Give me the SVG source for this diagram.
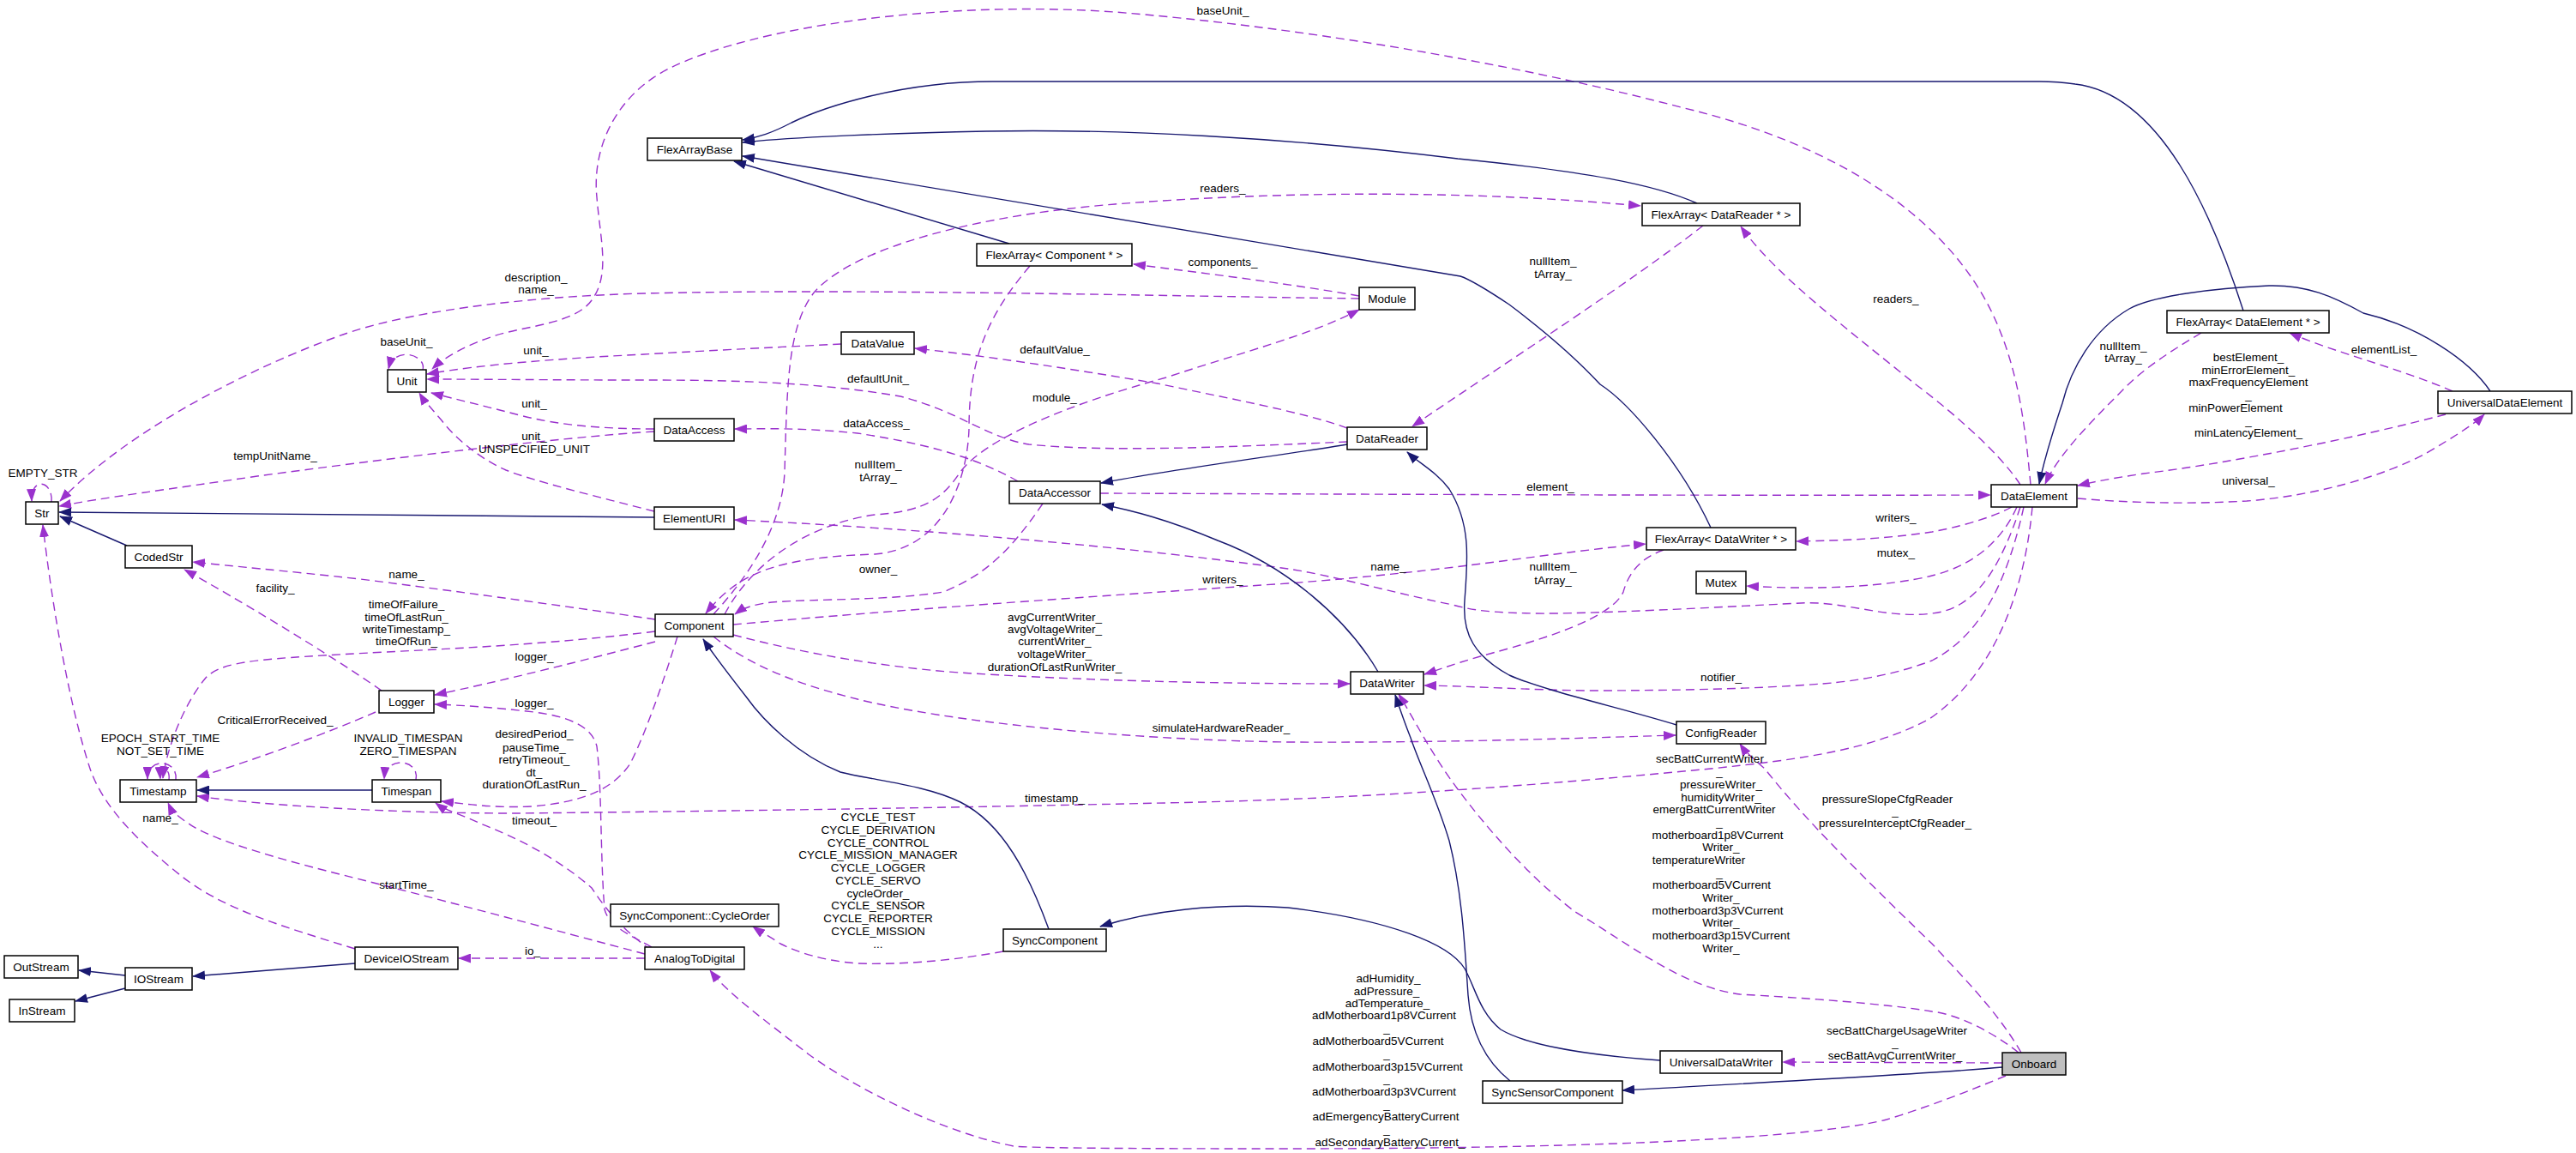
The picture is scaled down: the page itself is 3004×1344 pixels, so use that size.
<svg xmlns="http://www.w3.org/2000/svg" width="3004" height="1344" viewBox="0 0 3004 1344">
<style>
text{font-family:"Liberation Sans",Arial,sans-serif;font-size:13.5px;fill:#000}
.n text{text-anchor:middle}
.m{text-anchor:middle}
.n rect{fill:#fff;stroke:#000;stroke-width:1.5}
.u{fill:none;stroke:#9a32cd;stroke-width:1.4;stroke-dasharray:10 6;marker-end:url(#ap)}
.i{fill:none;stroke:#191970;stroke-width:1.4;marker-end:url(#an)}
</style>
<defs>
<marker id="ap" markerUnits="userSpaceOnUse" markerWidth="15" markerHeight="11" viewBox="0 0 15 11" refX="14" refY="5.5" orient="auto"><path d="M0,0L15,5.5L0,11z" fill="#9a32cd"/></marker>
<marker id="an" markerUnits="userSpaceOnUse" markerWidth="15" markerHeight="11" viewBox="0 0 15 11" refX="14" refY="5.5" orient="auto"><path d="M0,0L15,5.5L0,11z" fill="#191970"/></marker>
</defs>
<rect width="3004" height="1344" fill="#fff"/>
<g id="connectors">
<path class="u" d="M2368,565 C2362,500 2355,440 2330,380 C2280,260 2150,170 1960,125 C1750,70 1500,30 1300,14 C1100,0 880,30 780,80 C720,110 690,170 696,230 C700,280 712,320 690,350 C670,378 610,380 575,392 C545,402 520,415 504,430"/>
<path class="u" d="M2356,565 C2330,525 2270,475 2230,445 C2150,380 2070,320 2030,264"/>
<path class="u" d="M832,716 C865,680 912,620 915,550 C918,450 918,380 950,340 C1000,285 1150,250 1300,238 C1500,222 1720,222 1913,240"/>
<path class="u" d="M1986,263 C1900,330 1760,420 1647,497"/>
<path class="u" d="M1585,345 C1500,330 1400,318 1322,308"/>
<path class="u" d="M1585,348 C1350,345 1000,336 751,342 C600,346 470,365 400,390 C300,425 150,500 70,584"/>
<path class="u" d="M845,716 C880,650 950,610 1020,600 C1080,596 1100,580 1120,550 C1150,510 1250,470 1360,440 C1450,410 1530,390 1585,361"/>
<path class="u" d="M1201,310 C1150,370 1130,420 1130,500 C1128,560 1100,640 1020,646 C900,650 860,670 823,715"/>
<path class="u" d="M981,401 C900,405 800,410 751,413 C650,418 560,425 498,436"/>
<path class="u" d="M1571,499 C1520,480 1420,462 1350,447 C1250,430 1150,415 1067,406"/>
<path class="u" d="M1571,515 C1450,520 1300,528 1200,518 C1150,510 1120,480 1050,462 C950,445 850,443 751,443 C650,443 560,442 498,442"/>
<path class="u" d="M763,500 C700,500 650,495 610,485 C560,472 530,465 503,458"/>
<path class="u" d="M763,503 C650,510 450,535 300,555 C200,570 120,580 69,590"/>
<path class="u" d="M763,596 C700,580 620,560 590,548 C560,535 530,510 515,490 C505,478 495,468 489,458"/>
<path class="u" d="M764,722 C650,705 500,685 420,675 C330,665 270,660 225,655"/>
<path class="u" d="M445,805 C380,760 280,700 215,664"/>
<path class="u" d="M764,736 C650,750 550,755 450,760 C300,768 260,770 240,790 C215,820 195,870 190,907"/>
<path class="u" d="M764,748 C680,770 580,795 507,810"/>
<path class="u" d="M760,1104 C735,1090 710,1080 705,1060 C700,1000 702,920 696,870 C690,845 660,835 623,830 C580,825 540,822 507,821"/>
<path class="u" d="M438,830 C380,855 300,885 230,906"/>
<path class="u" d="M790,742 C775,790 755,850 735,890 C715,920 680,935 620,940 C580,942 550,938 515,934"/>
<path class="u" d="M760,1108 C720,1080 700,1050 690,1035 C650,1000 600,975 560,960 C540,950 520,945 508,936"/>
<path class="u" d="M2370,591 C2360,700 2320,790 2250,838 C2180,875 2100,885 1995,896 C1800,915 1600,930 1400,935 C1100,942 800,946 600,948 C450,948 300,938 230,928"/>
<path class="u" d="M752,1112 C650,1085 500,1045 400,1020 C300,995 240,975 220,960 C205,950 200,945 196,936"/>
<path class="u" d="M414,1106 C330,1080 260,1060 210,1020 C160,980 120,940 105,896 C80,820 60,700 50,612"/>
<path class="u" d="M752,1117 L535,1117"/>
<path class="u" d="M1187,561 C1150,540 1100,520 1000,505 C930,498 890,500 857,500"/>
<path class="u" d="M1283,575 C1600,576 2000,578 2321,577"/>
<path class="u" d="M1216,587 C1180,640 1150,670 1100,690 C1040,700 950,698 900,702 C875,705 865,710 857,716"/>
<path class="u" d="M855,728 C1000,715 1200,700 1502,680 C1700,665 1800,645 1919,634"/>
<path class="u" d="M2356,591 C2330,670 2300,710 2253,715 C2200,722 2150,700 2100,703 C2000,708 1850,716 1789,715 C1740,714 1720,712 1694,705 C1620,690 1560,672 1502,663 C1300,635 1050,615 857,606"/>
<path class="u" d="M2346,591 C2320,605 2280,615 2253,620 C2200,628 2150,630 2095,631"/>
<path class="u" d="M2352,591 C2330,640 2290,662 2253,671 C2200,684 2120,688 2037,683"/>
<path class="u" d="M2360,591 C2340,680 2310,740 2253,770 C2200,790 2150,795 2125,797 C2050,803 1950,805 1850,805 C1780,804 1720,800 1661,799"/>
<path class="u" d="M1940,641 C1915,650 1900,665 1893,690 C1880,720 1800,745 1741,761 C1700,772 1680,780 1661,786"/>
<path class="u" d="M855,740 C950,765 1050,780 1134,785 C1300,795 1450,797 1574,797"/>
<path class="u" d="M832,742 C880,780 940,800 1000,815 C1100,840 1300,862 1502,865 C1700,866 1850,860 1954,857"/>
<path class="u" d="M2354,1227 C2320,1200 2280,1182 2253,1179 C2200,1170 2100,1163 2029,1159 C1960,1150 1900,1100 1837,1063 C1780,1020 1730,960 1700,920 C1670,880 1650,840 1631,809"/>
<path class="u" d="M2357,1227 C2330,1180 2290,1140 2253,1100 C2170,1020 2100,950 2058,896 C2045,885 2035,876 2029,867"/>
<path class="u" d="M2335,1239 L2079,1238"/>
<path class="u" d="M2339,1254 C2300,1270 2250,1290 2200,1305 C2100,1330 1800,1339 1502,1339 C1300,1339 1200,1338 1182,1336 C1100,1320 1000,1270 943,1229 C900,1195 850,1160 828,1131"/>
<path class="u" d="M1170,1109 C1120,1118 1060,1125 1000,1123 C960,1120 930,1110 910,1100 C895,1090 885,1085 878,1080"/>
<path class="u" d="M2852,483 C2750,510 2600,540 2500,552 C2460,558 2440,562 2423,566"/>
<path class="u" d="M2423,581 C2480,586 2550,588 2620,584 C2700,578 2780,555 2830,528 C2860,510 2885,495 2897,483"/>
<path class="u" d="M2860,456 C2800,430 2720,410 2670,388"/>
<path class="u" d="M2567,388 C2530,410 2500,430 2480,450 C2440,490 2400,530 2385,564"/>
<path class="u" d="M493,431 C498,414 460,402 453,430"/>
<path class="u" d="M60,585 C62,560 36,555 37,584"/>
<path class="u" d="M205,909 C208,885 172,882 172,908"/>
<path class="u" d="M197,909 C199,894 186,893 187,908"/>
<path class="u" d="M485,909 C490,885 450,880 448,908"/>

<path class="i" d="M1177,284 L856,188"/>
<path class="i" d="M1979,237 C1930,215 1850,200 1700,185 C1500,160 1300,150 1150,153 C1000,156 900,162 866,166"/>
<path class="i" d="M2616,362 C2580,250 2520,110 2420,98 C2400,95 2390,95 2378,95 L1158,95 C1050,95 960,125 923,143 C900,155 885,160 866,163"/>
<path class="i" d="M1995,615 C1960,540 1900,470 1866,448 C1840,420 1800,385 1760,355 C1730,335 1715,326 1703,322 L866,182"/>
<path class="i" d="M1571,518 C1500,530 1380,545 1284,563"/>
<path class="i" d="M1607,783 C1570,720 1500,660 1420,630 C1360,605 1320,595 1285,588"/>
<path class="i" d="M1955,845 C1890,825 1800,805 1760,787 C1720,765 1705,740 1708,700 C1712,650 1715,610 1690,570 C1675,550 1655,540 1641,527"/>
<path class="i" d="M1761,1260 C1730,1235 1715,1200 1712,1160 C1708,1100 1705,1040 1690,980 C1675,930 1655,890 1645,860 C1637,840 1632,825 1627,810"/>
<path class="i" d="M1936,1236 C1850,1230 1780,1218 1750,1200 C1725,1180 1720,1150 1708,1129 C1690,1100 1620,1072 1502,1058 C1420,1052 1340,1062 1283,1080"/>
<path class="i" d="M2335,1244 C2250,1252 2050,1262 1892,1271"/>
<path class="i" d="M1223,1083 C1200,1020 1170,960 1120,935 C1080,915 1020,910 980,900 C930,880 890,840 870,812 C845,780 830,760 820,745"/>
<path class="i" d="M414,1123 L225,1138"/>
<path class="i" d="M146,1137 L92,1131"/>
<path class="i" d="M146,1152 L88,1167"/>
<path class="i" d="M434,921 L230,921"/>
<path class="i" d="M148,636 L70,602"/>
<path class="i" d="M763,603 L69,597"/>
<path class="i" d="M2904,456 C2880,420 2820,380 2756,365 C2720,345 2690,332 2646,333 C2580,336 2510,345 2483,360 C2440,385 2415,430 2405,470 C2395,500 2385,530 2378,564"/>

<g class="m">
<text x="474" y="403">baseUnit_</text>
<text x="1426" y="17">baseUnit_</text>
<text x="625" y="328">description_</text>
<text x="625" y="342">name_</text>
<text x="625" y="413">unit_</text>
<text x="1426" y="224">readers_</text>
<text x="1426" y="310">components_</text>
<text x="1230" y="412">defaultValue_</text>
<text x="1024" y="446">defaultUnit_</text>
<text x="1811" y="309">nullItem_</text>
<text x="1811" y="324">tArray_</text>
<text x="2211" y="353">readers_</text>
<text x="2476" y="408">nullItem_</text>
<text x="2476" y="422">tArray_</text>
<text x="2622" y="421">bestElement_</text>
<text x="2622" y="436">minErrorElement_</text>
<text x="2622" y="450">maxFrequencyElement</text>
<text x="2622" y="465">_</text>
<text x="2607" y="480">minPowerElement</text>
<text x="2622" y="495">_</text>
<text x="2622" y="509">minLatencyElement_</text>
<text x="2780" y="412">elementList_</text>
<text x="2622" y="565">universal_</text>
<text x="1230" y="468">module_</text>
<text x="1022" y="498">dataAccess_</text>
<text x="1024" y="546">nullItem_</text>
<text x="1024" y="561">tArray_</text>
<text x="1024" y="668">owner_</text>
<text x="1426" y="680">writers_</text>
<text x="1230" y="724">avgCurrentWriter_</text>
<text x="1230" y="738">avgVoltageWriter_</text>
<text x="1230" y="752">currentWriter_</text>
<text x="1230" y="767">voltageWriter_</text>
<text x="1230" y="782">durationOfLastRunWriter_</text>
<text x="1424" y="853">simulateHardwareReader_</text>
<text x="1808" y="572">element_</text>
<text x="2211" y="608">writers_</text>
<text x="2211" y="649">mutex_</text>
<text x="1619" y="665">name_</text>
<text x="1811" y="665">nullItem_</text>
<text x="1811" y="681">tArray_</text>
<text x="2007" y="794">notifier_</text>
<text x="1994" y="889">secBattCurrentWriter</text>
<text x="2005" y="904">_</text>
<text x="2007" y="919">pressureWriter_</text>
<text x="2007" y="934">humidityWriter_</text>
<text x="1999" y="948">emergBattCurrentWriter</text>
<text x="2005" y="963">_</text>
<text x="2003" y="978">motherboard1p8VCurrent</text>
<text x="2007" y="992">Writer_</text>
<text x="1981" y="1007">temperatureWriter</text>
<text x="2005" y="1022">_</text>
<text x="1996" y="1036">motherboard5VCurrent</text>
<text x="2007" y="1051">Writer_</text>
<text x="2003" y="1066">motherboard3p3VCurrent</text>
<text x="2007" y="1080">Writer_</text>
<text x="2007" y="1095">motherboard3p15VCurrent</text>
<text x="2007" y="1110">Writer_</text>
<text x="2201" y="936">pressureSlopeCfgReader</text>
<text x="2210" y="950">_</text>
<text x="2210" y="964">pressureInterceptCfgReader_</text>
<text x="2212" y="1206">secBattChargeUsageWriter</text>
<text x="2210" y="1220">_</text>
<text x="2210" y="1235">secBattAvgCurrentWriter_</text>
<text x="1619" y="1145">adHumidity_</text>
<text x="1617" y="1160">adPressure_</text>
<text x="1618" y="1174">adTemperature_</text>
<text x="1614" y="1188">adMotherboard1p8VCurrent</text>
<text x="1617" y="1203">_</text>
<text x="1607" y="1218">adMotherboard5VCurrent</text>
<text x="1617" y="1233">_</text>
<text x="1618" y="1248">adMotherboard3p15VCurrent</text>
<text x="1617" y="1262">_</text>
<text x="1614" y="1277">adMotherboard3p3VCurrent</text>
<text x="1617" y="1292">_</text>
<text x="1616" y="1306">adEmergencyBatteryCurrent</text>
<text x="1617" y="1321">_</text>
<text x="1621" y="1336">adSecondaryBatteryCurrent_</text>
<text x="1024" y="957">CYCLE_TEST</text>
<text x="1024" y="972">CYCLE_DERIVATION</text>
<text x="1024" y="987">CYCLE_CONTROL</text>
<text x="1024" y="1001">CYCLE_MISSION_MANAGER</text>
<text x="1024" y="1016">CYCLE_LOGGER</text>
<text x="1024" y="1031">CYCLE_SERVO</text>
<text x="1024" y="1046">cycleOrder_</text>
<text x="1024" y="1060">CYCLE_SENSOR</text>
<text x="1024" y="1075">CYCLE_REPORTER</text>
<text x="1024" y="1090">CYCLE_MISSION</text>
<text x="1024" y="1105">...</text>
<text x="1230" y="935">timestamp_</text>
<text x="187" y="865">EPOCH_START_TIME</text>
<text x="187" y="880">NOT_SET_TIME</text>
<text x="476" y="865">INVALID_TIMESPAN</text>
<text x="476" y="880">ZERO_TIMESPAN</text>
<text x="623" y="860">desiredPeriod_</text>
<text x="623" y="876">pauseTime_</text>
<text x="623" y="890">retryTimeout_</text>
<text x="623" y="905">dt_</text>
<text x="623" y="919">durationOfLastRun_</text>
<text x="623" y="961">timeout_</text>
<text x="187" y="958">name_</text>
<text x="474" y="1036">startTime_</text>
<text x="621" y="1113">io_</text>
<text x="50" y="556">EMPTY_STR</text>
<text x="321" y="536">tempUnitName_</text>
<text x="623" y="475">unit_</text>
<text x="623" y="513">unit_</text>
<text x="623" y="528">UNSPECIFIED_UNIT</text>
<text x="474" y="674">name_</text>
<text x="321" y="690">facility_</text>
<text x="474" y="709">timeOfFailure_</text>
<text x="474" y="724">timeOfLastRun_</text>
<text x="474" y="738">writeTimestamp_</text>
<text x="474" y="752">timeOfRun_</text>
<text x="623" y="770">logger_</text>
<text x="623" y="824">logger_</text>
<text x="321" y="844">CriticalErrorReceived_</text>
</g>
</g>

<g class="n">
<g id="FlexArrayBase"><rect x="755" y="161" width="110" height="26"/><text x="810" y="179">FlexArrayBase</text></g>
<g id="FlexArrayComponent"><rect x="1139" y="284" width="181" height="26"/><text x="1229.5" y="302">FlexArray&lt; Component * &gt;</text></g>
<g id="FlexArrayDataReader"><rect x="1915" y="237" width="184" height="26"/><text x="2007" y="255">FlexArray&lt; DataReader * &gt;</text></g>
<g id="FlexArrayDataElement"><rect x="2527" y="362" width="189" height="26"/><text x="2621.5" y="380">FlexArray&lt; DataElement * &gt;</text></g>
<g id="Module"><rect x="1585" y="335" width="65" height="26"/><text x="1617.5" y="353">Module</text></g>
<g id="Unit"><rect x="452" y="431" width="45" height="26"/><text x="474.5" y="449">Unit</text></g>
<g id="DataValue"><rect x="981" y="387" width="85" height="26"/><text x="1023.5" y="405">DataValue</text></g>
<g id="DataAccess"><rect x="763" y="488" width="93" height="26"/><text x="809.5" y="506">DataAccess</text></g>
<g id="DataReader"><rect x="1571" y="498" width="93" height="26"/><text x="1617.5" y="516">DataReader</text></g>
<g id="UniversalDataElement"><rect x="2843" y="456" width="156" height="26"/><text x="2921" y="474">UniversalDataElement</text></g>
<g id="DataElement"><rect x="2322" y="565" width="100" height="26"/><text x="2372" y="583">DataElement</text></g>
<g id="DataAccessor"><rect x="1177" y="561" width="106" height="26"/><text x="1230" y="579">DataAccessor</text></g>
<g id="Str"><rect x="30" y="585" width="38" height="26"/><text x="49" y="603">Str</text></g>
<g id="ElementURI"><rect x="763" y="591" width="93" height="26"/><text x="809.5" y="609">ElementURI</text></g>
<g id="CodedStr"><rect x="146" y="636" width="78" height="26"/><text x="185" y="654">CodedStr</text></g>
<g id="FlexArrayDataWriter"><rect x="1920" y="615" width="174" height="26"/><text x="2007" y="633">FlexArray&lt; DataWriter * &gt;</text></g>
<g id="Mutex"><rect x="1978" y="666" width="58" height="26"/><text x="2007" y="684">Mutex</text></g>
<g id="Component"><rect x="764" y="716" width="91" height="26"/><text x="809.5" y="734">Component</text></g>
<g id="DataWriter"><rect x="1575" y="783" width="85" height="26"/><text x="1617.5" y="801">DataWriter</text></g>
<g id="Logger"><rect x="442" y="805" width="64" height="26"/><text x="474" y="823">Logger</text></g>
<g id="ConfigReader"><rect x="1955" y="841" width="104" height="26"/><text x="2007" y="859">ConfigReader</text></g>
<g id="Timestamp"><rect x="140" y="909" width="89" height="26"/><text x="184.5" y="927">Timestamp</text></g>
<g id="Timespan"><rect x="434" y="909" width="80" height="26"/><text x="474" y="927">Timespan</text></g>
<g id="CycleOrder"><rect x="712" y="1054" width="196" height="26"/><text x="810" y="1072">SyncComponent::CycleOrder</text></g>
<g id="SyncComponent"><rect x="1170" y="1083" width="120" height="26"/><text x="1230" y="1101">SyncComponent</text></g>
<g id="DeviceIOStream"><rect x="414" y="1104" width="120" height="26"/><text x="474" y="1122">DeviceIOStream</text></g>
<g id="AnalogToDigital"><rect x="752" y="1104" width="116" height="26"/><text x="810" y="1122">AnalogToDigital</text></g>
<g id="OutStream"><rect x="5" y="1114" width="86" height="26"/><text x="48" y="1132">OutStream</text></g>
<g id="IOStream"><rect x="146" y="1128" width="78" height="26"/><text x="185" y="1146">IOStream</text></g>
<g id="InStream"><rect x="11" y="1165" width="76" height="26"/><text x="49" y="1183">InStream</text></g>
<g id="UniversalDataWriter"><rect x="1936" y="1225" width="142" height="26"/><text x="2007" y="1243">UniversalDataWriter</text></g>
<g id="SyncSensorComponent"><rect x="1729" y="1260" width="163" height="26"/><text x="1810.5" y="1278">SyncSensorComponent</text></g>
<g id="Onboard"><rect x="2335" y="1227" width="74" height="26" style="fill:#bfbfbf"/><text x="2372" y="1245">Onboard</text></g>
</g>
</svg>
